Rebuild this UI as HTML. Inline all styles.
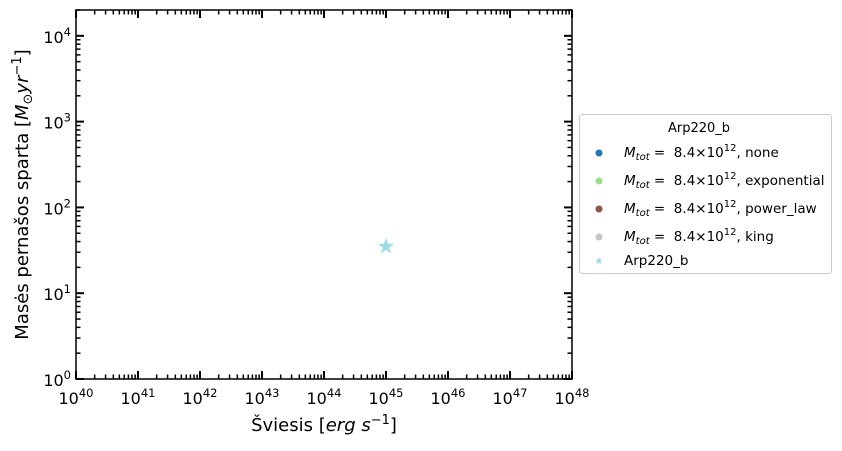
<!DOCTYPE html>
<html><head><meta charset="utf-8"><style>
body{margin:0;background:#fff}
svg text{font-family:"DejaVu Sans","Liberation Sans",sans-serif}
</style></head><body>
<svg id="chart" width="842" height="446" xmlns="http://www.w3.org/2000/svg"></svg>
<script>
const xDecades=[40,41,42,43,44,45,46,47,48];
const yDecades=[0,1,2,3,4];
const starX=[1e45];
const starY=[35];
const legendLabels=["none","exponential","power_law","king"];
const legendColors=["#1f77b4","#98df8a","#8c564b","#c7c7c7"];
const L=76,R=572,T=10,B=379;
const xmin=40,xmax=48,ymin=0,ymax=Math.log10(2e4);
const sx=v=>L+(Math.log10(v)-xmin)/(xmax-xmin)*(R-L);
const sy=v=>B-(Math.log10(v)-ymin)/(ymax-ymin)*(B-T);
const svg=document.getElementById('chart');
const NS='http://www.w3.org/2000/svg';
function mk(t,a,p){const e=document.createElementNS(NS,t);for(const k in a)e.setAttribute(k,a[k]);(p||svg).appendChild(e);return e;}
const ax=mk('g',{});


function tick(x1,y1,x2,y2,w){mk('line',{x1,y1,x2,y2,stroke:'#000','stroke-width':w},ax);}
for(let d=xmin;d<=xmax;d++){
  const x=sx(Math.pow(10,d));
  tick(x,B,x,B-8,2);tick(x,T,x,T+8,2);
  const t=mk('text',{x:x,y:B+25,'text-anchor':'middle','font-size':16},ax);
  t.innerHTML='10<tspan dy="-7" font-size="11.5">'+d+'</tspan>';
  
  
  if(d<xmax)for(let m=2;m<10;m++){const xm=sx(m*Math.pow(10,d));tick(xm,B,xm,B-4.5,1.5);tick(xm,T,xm,T+4.5,1.5);}
}
for(let d=ymin;d<=4;d++){
  const y=sy(Math.pow(10,d));
  tick(L,y,L+8,y,2);tick(R,y,R-8,y,2);
  const t=mk('text',{x:L-5,y:y+7,'text-anchor':'end','font-size':16},ax);
  t.innerHTML='10<tspan dy="-7" font-size="11.5">'+d+'</tspan>';
  
  
  for(let m=2;m<10;m++){const v=m*Math.pow(10,d);if(Math.log10(v)>ymax)break;const ym=sy(v);tick(L,ym,L+4.5,ym,1.5);tick(R,ym,R-4.5,ym,1.5);}
}
const fr=mk('rect',{x:L,y:T,width:R-L,height:B-T,fill:'none',stroke:'#000','stroke-width':1.5},ax);


const xt=mk('text',{x:(L+R)/2,y:431,'text-anchor':'middle','font-size':18});
xt.innerHTML='Šviesis [<tspan font-style="italic">erg s</tspan><tspan dy="-7" font-size="13">−1</tspan><tspan dy="7">]</tspan>';


const yt=mk('text',{x:0,y:0,'text-anchor':'middle','font-size':18,transform:'translate(28,'+((T+B)/2)+') rotate(-90)'});
yt.innerHTML='Masės pernašos sparta [<tspan font-style="italic">M</tspan><tspan font-size="13" dy="4">⊙</tspan><tspan dy="-4" font-style="italic">yr</tspan><tspan dy="-7" font-size="13">−1</tspan><tspan dy="7">]</tspan>';


function starPath(cx,cy,r){let p='';for(let i=0;i<10;i++){const a=-Math.PI/2+i*Math.PI/5;const rr=i%2?r*0.4:r;p+=(i?'L':'M')+(cx+rr*Math.cos(a)).toFixed(2)+','+(cy+rr*Math.sin(a)).toFixed(2);}return p+'Z';}
starX.forEach((v,i)=>{
  const s=mk('path',{d:starPath(sx(v),sy(starY[i]),8.5),fill:'#9edae5'});
  
  
});
const lg=mk('g',{});


mk('rect',{x:579.5,y:114.5,width:252,height:159,rx:3,fill:'#fff',stroke:'#ccc'},lg);
const lt=mk('text',{x:699,y:132,'text-anchor':'middle','font-size':13},lg);
lt.textContent='Arp220_b';
legendLabels.forEach((lab,i)=>{
  const y=152+i*28;
  const c=mk('circle',{cx:599,cy:y+1,r:3.5,fill:legendColors[i]},lg);
  
  
  const t=mk('text',{x:624,y:y+5,'font-size':13.5,'xml:space':'preserve'},lg);
  t.setAttribute('style','white-space:pre');
  t.innerHTML='<tspan font-style="italic">M</tspan><tspan font-style="italic" font-size="10" dy="3">tot</tspan><tspan dy="-3"> =  8.4×10</tspan><tspan font-size="10" dy="-6">12</tspan><tspan dy="6">, '+lab+'</tspan>';
  
  
});
const ls=mk('path',{d:starPath(599,261,4),fill:'#9edae5'},lg);


const lt2=mk('text',{x:624,y:265,'font-size':13.5},lg);
lt2.textContent='Arp220_b';


</script>
</body></html>
